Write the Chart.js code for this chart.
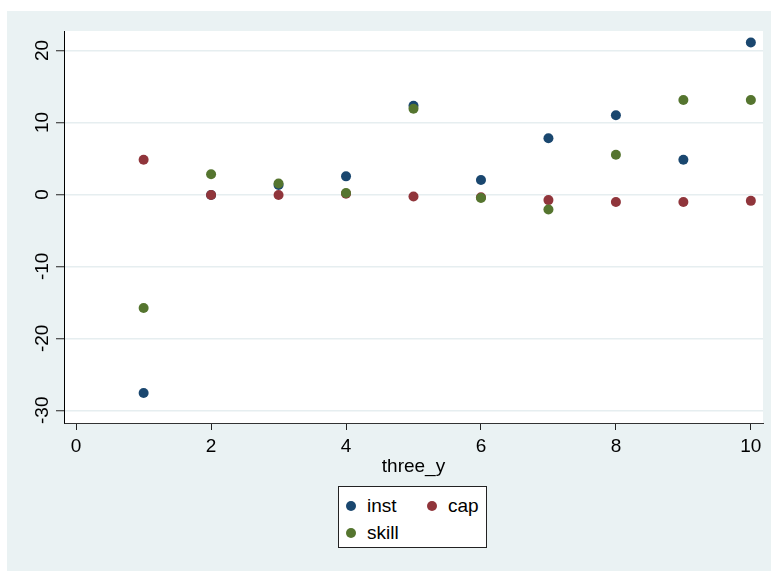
<!DOCTYPE html>
<html>
<head>
<meta charset="utf-8">
<script src="https://cdn.jsdelivr.net/npm/chart.js@4.4.0/dist/chart.umd.min.js"></script>
<style>
  body { margin: 0; background: #fff; }
  .wrap { position: relative; width: 771px; height: 571px; }
  #c { position: absolute; left: 0; top: 0; }
  .legend {
    position: absolute; left: 338px; top: 486px; width: 149px; height: 62px;
    border: 1px solid #222; background: #fff;
    display: grid; grid-template-columns: 81px auto; grid-auto-rows: 27px;
    padding: 5px 0 0 7px; box-sizing: border-box;
    font-family: "Liberation Sans", Arial, sans-serif; font-size: 19px; color: #000;
  }
  .legend div { display: flex; align-items: center; }
  .legend span.dot { width: 10px; height: 10px; border-radius: 50%; margin-right: 11px; }
</style>
</head>
<body>
<div class="wrap">
  <canvas id="c" width="771" height="571"></canvas>
  <div class="legend" id="legend"></div>
</div>
<script>
// data
const years = [1, 2, 3, 4, 5, 6, 7, 8, 9, 10];
const inst  = [-27.6, -0.1, 1.3, 2.5, 12.3, 2.0, 7.8, 11.0, 4.8, 21.1];
const cap   = [4.8, -0.1, -0.1, 0.1, -0.3, -0.4, -0.8, -1.05, -1.05, -0.9];
const skill = [-15.8, 2.8, 1.5, 0.2, 11.9, -0.5, -2.1, 5.5, 13.1, 13.1];
const xTicks = [0, 2, 4, 6, 8, 10];
const yTicks = [-30, -20, -10, 0, 10, 20];

const series = [
    {label: 'inst',  values: inst,  color: '#1a476f'},
    {label: 'cap',   values: cap,   color: '#90353b'},
    {label: 'skill', values: skill, color: '#55752f'}
];

const FONT = '"Liberation Sans", Arial, sans-serif';

// gray outer frame + white plot region
const bgPlugin = {
    id: 'bg',
    beforeDraw(chart) {
        const ctx = chart.ctx;
        const a = chart.chartArea;
        ctx.save();
        ctx.fillStyle = '#eaf2f3';
        ctx.fillRect(7, 11, chart.width - 7, chart.height - 11);
        ctx.fillStyle = '#fff';
        ctx.fillRect(a.left, a.top, a.right - a.left, a.bottom - a.top);
        ctx.restore();
    }
};

const datasets = series.map((s, i) => ({
    label: s.label,
    data: years.map((x, j) => ({x: x, y: s.values[j]})),
    backgroundColor: s.color,
    borderWidth: 0,
    pointRadius: 5,
    order: series.length - i   // last series on top, like Stata
}));

new Chart(document.getElementById('c').getContext('2d'), {
    type: 'scatter',
    data: {datasets: datasets},
    plugins: [bgPlugin],
    options: {
        responsive: false,
        animation: false,
        layout: {padding: {left: 0, top: 31, right: 8, bottom: 88}},
        plugins: {legend: {display: false}, tooltip: {enabled: false}},
        scales: {
            x: {
                type: 'linear', min: -0.18, max: 10.18,
                afterBuildTicks: s => { s.ticks = xTicks.map(v => ({value: v})); },
                afterFit: s => { s.height = 60; },
                grid: {drawOnChartArea: false, tickLength: 7, tickColor: '#222'},
                border: {color: '#333', width: 1},
                ticks: {color: '#000', padding: 5, font: {family: FONT, size: 19}, maxRotation: 0},
                title: {display: true, text: 'three_y', color: '#000', font: {family: FONT, size: 19}, padding: {top: 0, bottom: 5}}
            },
            y: {
                type: 'linear', min: -31.77, max: 22.7,
                afterBuildTicks: s => { s.ticks = yTicks.map(v => ({value: v})); },
                afterFit: s => { s.width = 64; },
                grid: {color: '#e6eef0', lineWidth: 1.5, tickLength: 8, tickColor: '#222', tickWidth: 1},
                border: {color: '#000', width: 1},
                ticks: {color: '#000', padding: 0, crossAlign: 'center', minRotation: 90, maxRotation: 90,
                        font: {family: FONT, size: 19}}
            }
        }
    }
});

// legend box, two columns like the original
const legend = document.getElementById('legend');
series.forEach(s => {
    const item = document.createElement('div');
    item.innerHTML = '<span class="dot" style="background:' + s.color + '"></span>' + s.label;
    legend.appendChild(item);
});
</script>
</body>
</html>
